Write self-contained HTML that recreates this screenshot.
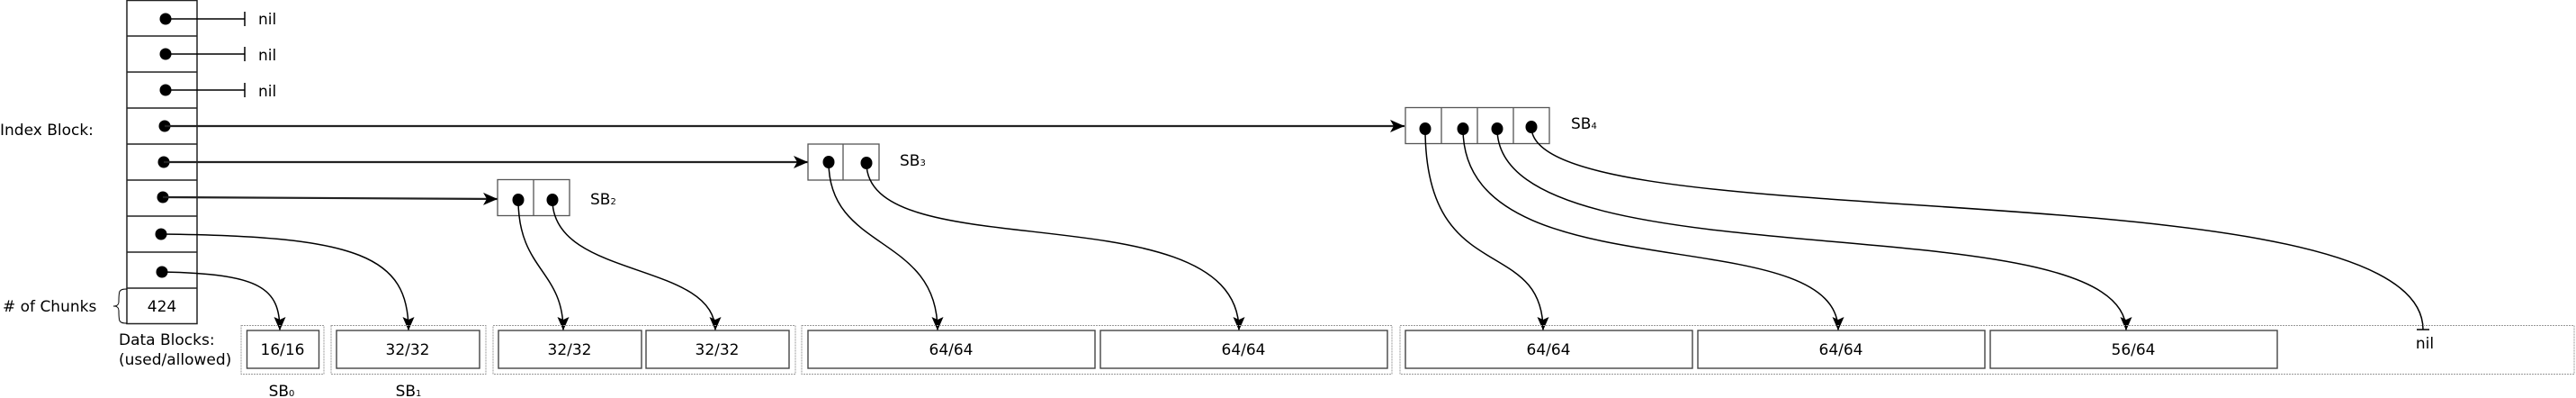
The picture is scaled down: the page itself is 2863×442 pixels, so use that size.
<!DOCTYPE html>
<html><head><meta charset="utf-8"><style>
html,body{margin:0;padding:0;background:#fff;}
svg{display:block;font-family:"DejaVu Sans","Liberation Sans",sans-serif;}
</style></head><body>
<svg width="2863" height="442" viewBox="0 0 2863 442" xmlns="http://www.w3.org/2000/svg">
<defs>
<marker id="ah" markerUnits="userSpaceOnUse" markerWidth="18" markerHeight="14" refX="16" refY="7" orient="auto">
<path d="M0,0 L16,7 L0,14 L4,7 Z" fill="#000"/>
</marker>
<marker id="av" markerUnits="userSpaceOnUse" markerWidth="16" markerHeight="14" refX="15" refY="7" orient="auto">
<path d="M0,0.5 L15,7 L0,13.5 L3,7 Z" fill="#000"/>
</marker>
</defs>
<g font-size="17" fill="#000">
<!-- index block -->
<g fill="none" stroke="#222" stroke-width="1.5">
<rect x="141" y="0.5" width="78" height="359"/>
<line x1="141" y1="40" x2="219" y2="40"/><line x1="141" y1="80" x2="219" y2="80"/>
<line x1="141" y1="120" x2="219" y2="120"/><line x1="141" y1="160" x2="219" y2="160"/>
<line x1="141" y1="200" x2="219" y2="200"/><line x1="141" y1="240" x2="219" y2="240"/>
<line x1="141" y1="280" x2="219" y2="280"/><line x1="141" y1="320" x2="219" y2="320"/>
</g>
<!-- nil pointers -->
<g stroke="#000" stroke-width="1.5">
<line x1="184" y1="21" x2="272" y2="21"/><line x1="272" y1="13" x2="272" y2="29"/>
<line x1="184" y1="60" x2="272" y2="60"/><line x1="272" y1="52" x2="272" y2="68"/>
<line x1="184" y1="100" x2="272" y2="100"/><line x1="272" y1="92" x2="272" y2="108"/>
</g>
<text x="287" y="27">nil</text><text x="287" y="67">nil</text><text x="287" y="107">nil</text>
<g fill="#000">
<circle cx="184" cy="21" r="6.5"/><circle cx="184" cy="60" r="6.5"/><circle cx="184" cy="100" r="6.5"/>
<circle cx="183" cy="140" r="6.5"/><circle cx="182" cy="180" r="6.5"/><circle cx="181" cy="219" r="6.5"/>
<circle cx="179" cy="260" r="6.5"/><circle cx="180" cy="302" r="6.5"/>
</g>
<text x="0" y="150">Index Block:</text>
<text x="3" y="346"># of Chunks</text>
<path d="M141,321 C132,321 132,323 132,335 C132,340 128,340 126,340 C128,340 132,340 132,345 C132,357 132,359 141,359" fill="none" stroke="#000" stroke-width="1"/>
<text x="180" y="346" text-anchor="middle">424</text>
<text x="132" y="383">Data Blocks:</text>
<text x="132" y="405">(used/allowed)</text>
<!-- index arrows -->
<g fill="none" stroke="#222" stroke-width="2.2">
<line x1="183" y1="140" x2="1561" y2="140" marker-end="url(#ah)"/>
<line x1="182" y1="180" x2="898" y2="180" marker-end="url(#ah)"/>
<line x1="181" y1="219" x2="553" y2="221" marker-end="url(#ah)"/>
</g>
<g fill="none" stroke="#000" stroke-width="1.5">
<path d="M179,260 C400,262 454,285 454,367" marker-end="url(#av)"/>
<path d="M180,302 C290,304 311,320 311,367" marker-end="url(#av)"/>
</g>
<!-- SB nodes -->
<g fill="#fff" stroke="#555" stroke-width="1.3">
<rect x="553" y="199.5" width="80" height="40"/><line x1="593" y1="199.5" x2="593" y2="239.5"/>
<rect x="898" y="160" width="79" height="40"/><line x1="937" y1="160" x2="937" y2="200"/>
<rect x="1562" y="119.5" width="160" height="40"/>
<line x1="1602" y1="119.5" x2="1602" y2="159.5"/><line x1="1642" y1="119.5" x2="1642" y2="159.5"/><line x1="1682" y1="119.5" x2="1682" y2="159.5"/>
</g>
<g fill="#000">
<ellipse cx="576" cy="222" rx="6.5" ry="7"/><ellipse cx="614" cy="222" rx="6.5" ry="7"/>
<ellipse cx="921" cy="180" rx="6.5" ry="7"/><ellipse cx="963" cy="181" rx="6.5" ry="7"/>
<ellipse cx="1584" cy="143" rx="6.5" ry="7"/><ellipse cx="1626" cy="143" rx="6.5" ry="7"/>
<ellipse cx="1664" cy="143" rx="6.5" ry="7"/><ellipse cx="1702" cy="141" rx="6.5" ry="7"/>
</g>
<text x="656" y="227">SB<tspan font-size="10">2</tspan></text>
<text x="1000" y="184">SB<tspan font-size="10">3</tspan></text>
<text x="1746" y="143">SB<tspan font-size="10">4</tspan></text>
<!-- SB curves -->
<g fill="none" stroke="#000" stroke-width="1.5">
<path d="M576,222 C576,300 626,300 626,367" marker-end="url(#av)"/>
<path d="M614,222 C614,310 795,290 795,367" marker-end="url(#av)"/>
<path d="M921,180 C921,280 1042,260 1042,367" marker-end="url(#av)"/>
<path d="M963,181 C963,300 1377,210 1377,367" marker-end="url(#av)"/>
<path d="M1584,143 C1584,320 1715,260 1715,367" marker-end="url(#av)"/>
<path d="M1626,143 C1626,330 2043,240 2043,367" marker-end="url(#av)"/>
<path d="M1664,143 C1664,320 2363,220 2363,367" marker-end="url(#av)"/>
<path d="M1702,141 C1702,270 2693,180 2693,366"/>
<line x1="2686" y1="366" x2="2700" y2="366"/>
</g>
<text x="2695" y="387" text-anchor="middle">nil</text>
<!-- data blocks outer -->
<g fill="none" stroke="#999" stroke-width="1" stroke-dasharray="2,1">
<rect x="268" y="361.5" width="92" height="54"/>
<rect x="368" y="361.5" width="172" height="54"/>
<rect x="548" y="361.5" width="336" height="54"/>
<rect x="891" y="361.5" width="656" height="54"/>
<rect x="1556" y="361.5" width="1305" height="54"/>
</g>
<g fill="none" stroke="#444" stroke-width="1.4">
<rect x="274.5" y="367" width="80" height="42"/>
<rect x="374" y="367" width="159" height="42"/>
<rect x="554" y="367" width="159" height="42"/>
<rect x="718" y="367" width="159" height="42"/>
<rect x="898" y="367" width="319" height="42"/>
<rect x="1223" y="367" width="319" height="42"/>
<rect x="1562" y="367" width="319" height="42"/>
<rect x="1887" y="367" width="319" height="42"/>
<rect x="2212" y="367" width="319" height="42"/>
</g>
<g text-anchor="middle">
<text x="314" y="394">16/16</text>
<text x="453" y="394">32/32</text>
<text x="633" y="394">32/32</text>
<text x="797" y="394">32/32</text>
<text x="1057" y="394">64/64</text>
<text x="1382" y="394">64/64</text>
<text x="1721" y="394">64/64</text>
<text x="2046" y="394">64/64</text>
<text x="2371" y="394">56/64</text>
<text x="313" y="440">SB<tspan font-size="10">0</tspan></text>
<text x="454" y="440">SB<tspan font-size="10">1</tspan></text>
</g>
</g>
</svg>
</body></html>
